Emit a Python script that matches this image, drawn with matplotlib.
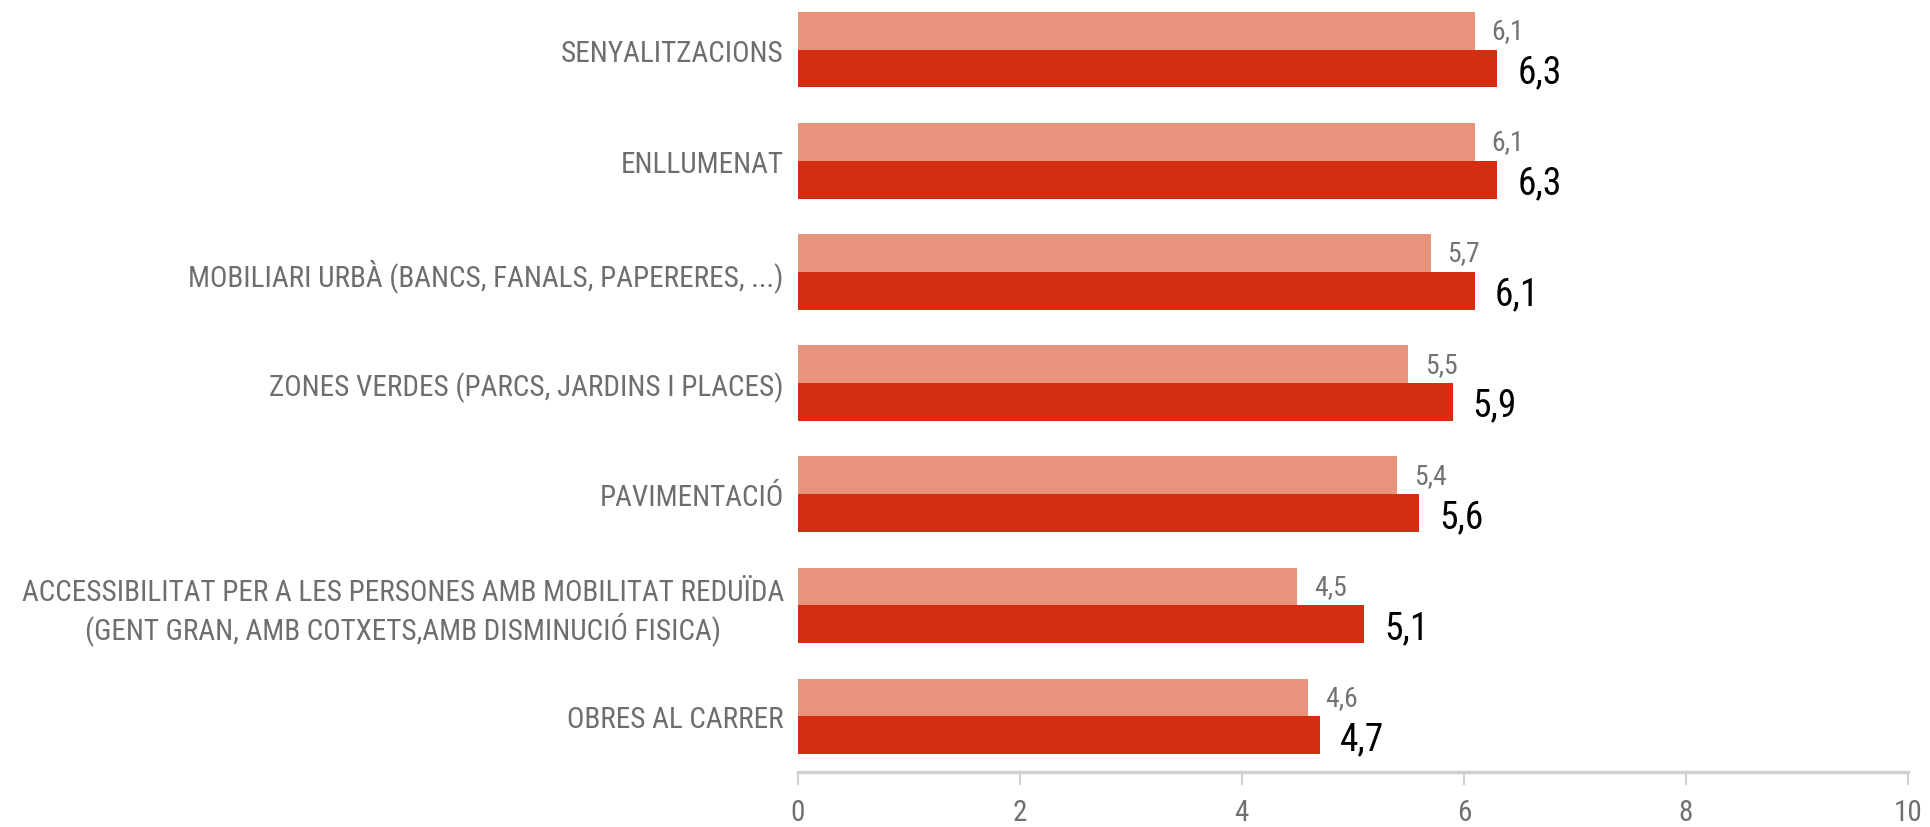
import numpy as np
import matplotlib.pyplot as plt
import matplotlib.font_manager as fm

# look for a narrow sans like the original (condensed grotesk)
fam = 'DejaVu Sans'
stretch = 'normal'
names = set(f.name for f in fm.fontManager.ttflist)
for cand in ['Liberation Sans Narrow', 'Roboto Condensed', 'Open Sans Condensed', 'Noto Sans Condensed']:
    if cand in names:
        fam = cand
        break
else:
    for f in fm.fontManager.ttflist:
        if str(f.stretch) in ('condensed', 'semi-condensed') and f.style == 'normal':
            fam = f.name
            stretch = f.stretch
            break
plt.rcParams['font.family'] = [fam, 'DejaVu Sans']
plt.rcParams['font.stretch'] = stretch

categories = ['SENYALITZACIONS',
              'ENLLUMENAT',
              'MOBILIARI URBÀ (BANCS, FANALS, PAPERERES, ...)',
              'ZONES VERDES (PARCS, JARDINS I PLACES)',
              'PAVIMENTACIÓ',
              'ACCESSIBILITAT PER A LES PERSONES AMB MOBILITAT REDUÏDA\n(GENT GRAN, AMB COTXETS,AMB DISMINUCIÓ FISICA)',
              'OBRES AL CARRER']
prev = [6.1, 6.1, 5.7, 5.5, 5.4, 4.5, 4.6]
curr = [6.3, 6.3, 6.1, 5.9, 5.6, 5.1, 4.7]
xticks = [0, 2, 4, 6, 8, 10]

light = '#E8947C'
dark = '#D42D12'
h = 0.34

fig = plt.figure(figsize=(19.3, 8.28), dpi=100)
ax = fig.add_axes([0.4133, 0.0664, 0.5753, 0.9396])

y = np.arange(len(categories))
ax.barh(y - h/2, prev, height=h, color=light)
ax.barh(y + h/2, curr, height=h, color=dark)

for i in range(len(categories)):
    ax.text(prev[i] + 0.15, y[i] - h/2, ('%.1f' % prev[i]).replace('.', ','),
            va='center', ha='left', fontsize=20, color='#737373')
    ax.text(curr[i] + 0.18, y[i] + h/2 + 0.03, ('%.1f' % curr[i]).replace('.', ','),
            va='center', ha='left', fontsize=27, color='black')

ax.set_ylim(len(categories) - 0.5, -0.5)
ax.set_xlim(0, 10)
ax.set_yticks(y)
ax.set_yticklabels(categories, fontsize=21, color='#6e6e6e', multialignment='center')
ax.tick_params(axis='y', length=0, pad=10)
ax.set_xticks(xticks)
ax.set_xticklabels([str(t) for t in xticks], fontsize=21, color='#707070')
ax.tick_params(axis='x', length=9, width=1.5, color='#d0d0d0', pad=10)

for s in ['top', 'right', 'left']:
    ax.spines[s].set_visible(False)
ax.spines['bottom'].set_color('#d0d0d0')
ax.spines['bottom'].set_linewidth(2.5)

plt.savefig('out.png', dpi=100)
